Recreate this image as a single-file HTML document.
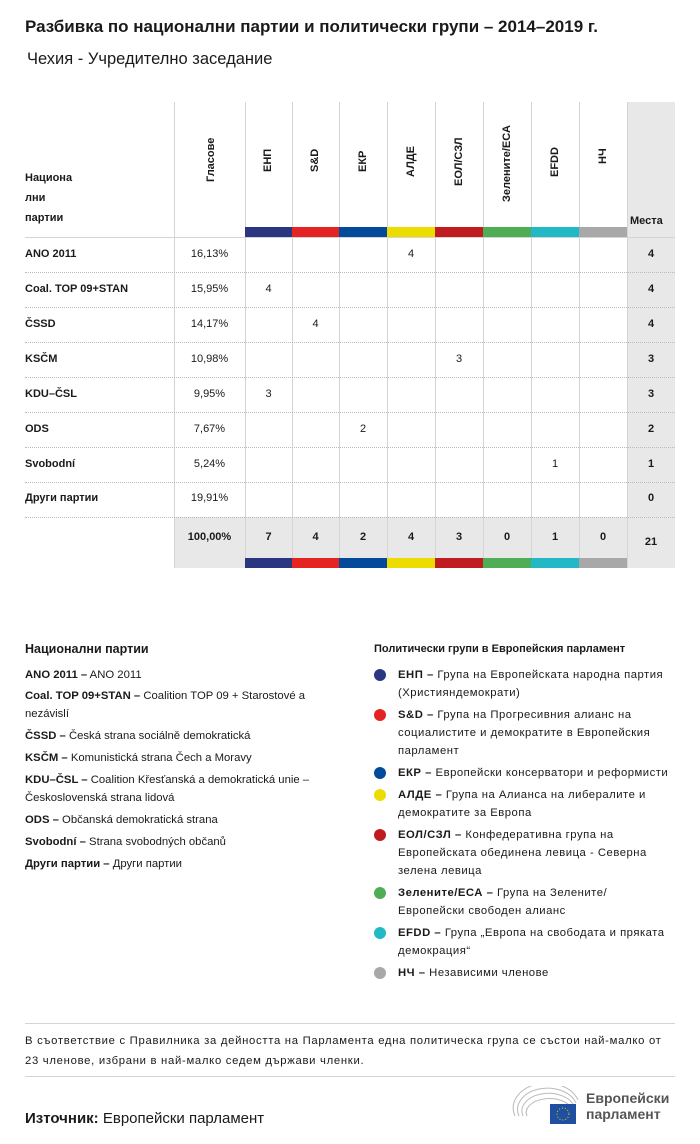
<!DOCTYPE html>
<html><head><meta charset="utf-8"><style>
body{margin:0;width:700px;height:1144px;background:#fff;font-family:"Liberation Sans","DejaVu Sans",sans-serif;color:#1a1a1a;position:relative;overflow:hidden}
.a{position:absolute;white-space:nowrap}
.t{font-size:11px}
.b{font-weight:bold}
.vl{position:absolute;width:1px;background:#d4d4d4}
.hl{position:absolute;left:25px;width:650px;border-top:1px dotted #bbb;height:0}
.rot{position:absolute;transform:rotate(-90deg);transform-origin:left top;font-size:11px;font-weight:bold;white-space:nowrap}
.c{position:absolute;text-align:center;font-size:11px}
.bar{position:absolute;height:10px}
.dot{position:absolute;width:12px;height:12px;border-radius:50%;left:374px}
.lg{position:absolute;font-size:11.3px;line-height:18px;white-space:nowrap}
.r{letter-spacing:0.5px}
</style></head><body>
<div class="a b" style="left:25px;top:17px;font-size:17px">Разбивка по национални партии и политически групи – 2014–2019 г.</div>
<div class="a" style="left:27px;top:50px;font-size:16.5px">Чехия - Учредително заседание</div>

<div style="position:absolute;left:627px;top:102px;width:48px;height:466px;background:#e8e8e8"></div>
<div style="position:absolute;left:174px;top:517px;width:501px;height:51px;background:#e8e8e8"></div>

<div class="vl" style="left:174px;top:102px;height:466px"></div>
<div class="vl" style="left:245px;top:102px;height:466px"></div>
<div class="vl" style="left:292px;top:102px;height:466px"></div>
<div class="vl" style="left:339px;top:102px;height:466px"></div>
<div class="vl" style="left:387px;top:102px;height:466px"></div>
<div class="vl" style="left:435px;top:102px;height:466px"></div>
<div class="vl" style="left:483px;top:102px;height:466px"></div>
<div class="vl" style="left:531px;top:102px;height:466px"></div>
<div class="vl" style="left:579px;top:102px;height:466px"></div>
<div class="vl" style="left:627px;top:102px;height:466px"></div>

<div class="a t b" style="left:25px;top:168px;line-height:20px;white-space:normal">Национа<br>лни<br>партии</div>
<div class="rot" style="left:205px;top:182px">Гласове</div>
<div class="rot" style="left:262px;top:172px">ЕНП</div>
<div class="rot" style="left:309px;top:172px">S&amp;D</div>
<div class="rot" style="left:357px;top:172px">ЕКР</div>
<div class="rot" style="left:405px;top:177px">АЛДЕ</div>
<div class="rot" style="left:453px;top:186px">ЕОЛ/СЗЛ</div>
<div class="rot" style="left:501px;top:202px">Зелените/ЕСА</div>
<div class="rot" style="left:549px;top:177px">EFDD</div>
<div class="rot" style="left:597px;top:164px">НЧ</div>
<div class="a t b" style="left:630px;top:215px">Места</div>

<div class="bar" style="left:245px;top:227px;width:47px;background:#2b3680"></div>
<div class="bar" style="left:292px;top:227px;width:47px;background:#e42323"></div>
<div class="bar" style="left:339px;top:227px;width:48px;background:#034a9a"></div>
<div class="bar" style="left:387px;top:227px;width:48px;background:#ecdc00"></div>
<div class="bar" style="left:435px;top:227px;width:48px;background:#c01b21"></div>
<div class="bar" style="left:483px;top:227px;width:48px;background:#4fad56"></div>
<div class="bar" style="left:531px;top:227px;width:48px;background:#22b8c5"></div>
<div class="bar" style="left:579px;top:227px;width:48px;background:#a8a8a8"></div>
<div style="position:absolute;left:25px;top:237px;width:650px;border-top:1px solid #d4d4d4"></div>

<div class="hl" style="top:272px"></div><div class="hl" style="top:307px"></div><div class="hl" style="top:342px"></div><div class="hl" style="top:377px"></div><div class="hl" style="top:412px"></div><div class="hl" style="top:447px"></div><div class="hl" style="top:482px"></div><div class="hl" style="top:517px"></div>

<div class="a t b" style="left:25px;top:248px">ANO 2011</div><div class="c" style="left:174px;width:71px;top:248px">16,13%</div><div class="c" style="left:387px;width:48px;top:248px">4</div><div class="c b" style="left:627px;width:48px;top:248px">4</div>
<div class="a t b" style="left:25px;top:283px">Coal. TOP 09+STAN</div><div class="c" style="left:174px;width:71px;top:283px">15,95%</div><div class="c" style="left:245px;width:47px;top:283px">4</div><div class="c b" style="left:627px;width:48px;top:283px">4</div>
<div class="a t b" style="left:25px;top:318px">ČSSD</div><div class="c" style="left:174px;width:71px;top:318px">14,17%</div><div class="c" style="left:292px;width:47px;top:318px">4</div><div class="c b" style="left:627px;width:48px;top:318px">4</div>
<div class="a t b" style="left:25px;top:353px">KSČM</div><div class="c" style="left:174px;width:71px;top:353px">10,98%</div><div class="c" style="left:435px;width:48px;top:353px">3</div><div class="c b" style="left:627px;width:48px;top:353px">3</div>
<div class="a t b" style="left:25px;top:388px">KDU–ČSL</div><div class="c" style="left:174px;width:71px;top:388px">9,95%</div><div class="c" style="left:245px;width:47px;top:388px">3</div><div class="c b" style="left:627px;width:48px;top:388px">3</div>
<div class="a t b" style="left:25px;top:423px">ODS</div><div class="c" style="left:174px;width:71px;top:423px">7,67%</div><div class="c" style="left:339px;width:48px;top:423px">2</div><div class="c b" style="left:627px;width:48px;top:423px">2</div>
<div class="a t b" style="left:25px;top:458px">Svobodní</div><div class="c" style="left:174px;width:71px;top:458px">5,24%</div><div class="c" style="left:531px;width:48px;top:458px">1</div><div class="c b" style="left:627px;width:48px;top:458px">1</div>
<div class="a t b" style="left:25px;top:492px">Други партии</div><div class="c" style="left:174px;width:71px;top:492px">19,91%</div><div class="c b" style="left:627px;width:48px;top:492px">0</div>

<div class="c b" style="left:174px;width:71px;top:531px">100,00%</div>
<div class="c b" style="left:245px;width:47px;top:531px">7</div><div class="c b" style="left:292px;width:47px;top:531px">4</div><div class="c b" style="left:339px;width:48px;top:531px">2</div><div class="c b" style="left:387px;width:48px;top:531px">4</div><div class="c b" style="left:435px;width:48px;top:531px">3</div><div class="c b" style="left:483px;width:48px;top:531px">0</div><div class="c b" style="left:531px;width:48px;top:531px">1</div><div class="c b" style="left:579px;width:48px;top:531px">0</div><div class="c b" style="left:627px;width:48px;top:536px">21</div>
<div class="bar" style="left:245px;top:558px;width:47px;background:#2b3680"></div>
<div class="bar" style="left:292px;top:558px;width:47px;background:#e42323"></div>
<div class="bar" style="left:339px;top:558px;width:48px;background:#034a9a"></div>
<div class="bar" style="left:387px;top:558px;width:48px;background:#ecdc00"></div>
<div class="bar" style="left:435px;top:558px;width:48px;background:#c01b21"></div>
<div class="bar" style="left:483px;top:558px;width:48px;background:#4fad56"></div>
<div class="bar" style="left:531px;top:558px;width:48px;background:#22b8c5"></div>
<div class="bar" style="left:579px;top:558px;width:48px;background:#a8a8a8"></div>

<div class="a b" style="left:25px;top:642px;font-size:12.5px">Национални партии</div>
<div class="lg" style="left:25px;top:666px"><b>ANO 2011 –</b> ANO 2011</div>
<div class="lg" style="left:25px;top:687px"><b>Coal. TOP 09+STAN –</b> Coalition TOP 09 + Starostové a<br>nezávislí</div>
<div class="lg" style="left:25px;top:727px"><b>ČSSD –</b> Česká strana sociálně demokratická</div>
<div class="lg" style="left:25px;top:749px"><b>KSČM –</b> Komunistická strana Čech a Moravy</div>
<div class="lg" style="left:25px;top:771px"><b>KDU–ČSL –</b> Coalition Křesťanská a demokratická unie –<br>Československá strana lidová</div>
<div class="lg" style="left:25px;top:811px"><b>ODS –</b> Občanská demokratická strana</div>
<div class="lg" style="left:25px;top:833px"><b>Svobodní –</b> Strana svobodných občanů</div>
<div class="lg" style="left:25px;top:855px"><b>Други партии –</b> Други партии</div>

<div class="a b t" style="left:374px;top:643px">Политически групи в Европейския парламент</div>
<div class="dot" style="top:669px;background:#2b3680"></div><div class="lg r" style="left:398px;top:666px"><b>ЕНП –</b> Група на Европейската народна партия<br>(Християндемократи)</div>
<div class="dot" style="top:709px;background:#e42323"></div><div class="lg r" style="left:398px;top:706px"><b>S&amp;D –</b> Група на Прогресивния алианс на<br>социалистите и демократите в Европейския<br>парламент</div>
<div class="dot" style="top:767px;background:#034a9a"></div><div class="lg r" style="left:398px;top:764px"><b>ЕКР –</b> Европейски консерватори и реформисти</div>
<div class="dot" style="top:789px;background:#ecdc00"></div><div class="lg r" style="left:398px;top:786px"><b>АЛДЕ –</b> Група на Алианса на либералите и<br>демократите за Европа</div>
<div class="dot" style="top:829px;background:#c01b21"></div><div class="lg r" style="left:398px;top:826px"><b>ЕОЛ/СЗЛ –</b> Конфедеративна група на<br>Европейската обединена левица - Северна<br>зелена левица</div>
<div class="dot" style="top:887px;background:#4fad56"></div><div class="lg r" style="left:398px;top:884px"><b>Зелените/ЕСА –</b> Група на Зелените/<br>Европейски свободен алианс</div>
<div class="dot" style="top:927px;background:#22b8c5"></div><div class="lg r" style="left:398px;top:924px"><b>EFDD –</b> Група „Европа на свободата и пряката<br>демокрация“</div>
<div class="dot" style="top:967px;background:#a8a8a8"></div><div class="lg r" style="left:398px;top:964px"><b>НЧ –</b> Независими членове</div>

<div style="position:absolute;left:25px;top:1023px;width:650px;border-top:1px solid #d4d4d4"></div>
<div class="lg" style="left:25px;top:1031px;line-height:20px;letter-spacing:0.7px">В съответствие с Правилника за дейността на Парламента една политическа група се състои най-малко от<br>23 членове, избрани в най-малко седем държави членки.</div>
<div style="position:absolute;left:25px;top:1076px;width:650px;border-top:1px solid #d4d4d4"></div>
<div class="a" style="left:25px;top:1110px;font-size:15px"><b>Източник:</b> Европейски парламент</div>
<svg style="position:absolute;left:512px;top:1086px" width="70" height="40"><g fill="none" stroke="#bbb" stroke-width="1"><path d="M3 30 A32 24 0 0 1 66 14"/><path d="M7 30 A28 20 0 0 1 64 17"/><path d="M11 30 A24 16 0 0 1 62 20"/><path d="M15 30 A20 12 0 0 1 60 23"/></g><rect x="38" y="18" width="26" height="20" fill="#1f4fa0"/><circle cx="51" cy="28" r="6" fill="none" stroke="#f4d000" stroke-dasharray="1 2"/></svg>
<div class="a b" style="left:586px;top:1090px;font-size:14px;color:#555;line-height:16px">Европейски<br>парламент</div>
</body></html>
